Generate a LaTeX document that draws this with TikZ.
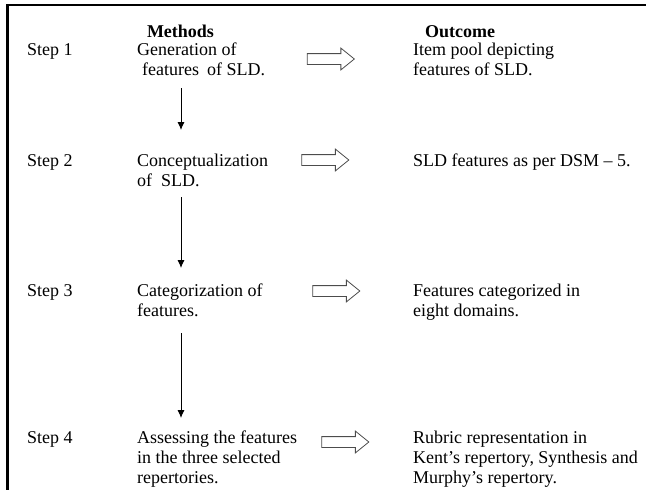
\documentclass[tikz,border=0pt]{standalone}
\usepackage{fontspec}
\setmainfont{Liberation Serif}
\usetikzlibrary{shapes.arrows,arrows.meta}
\newcommand\blk[1]{\vtop{\baselineskip=20pt\halign{##\hfil\cr#1\crcr}}}
\tikzset{
  txt/.style={inner sep=0pt, anchor=base west, font=\fontsize{18}{20}\selectfont},
  head/.style={inner sep=0pt, anchor=base, font=\fontsize{18}{20}\selectfont\bfseries},
  harrow/.style={shape=single arrow, draw=black!70, line width=0.8pt, inner xsep=0pt,
    inner ysep=5pt, single arrow head extend=5.5pt, single arrow tip angle=78,
    single arrow head indent=0pt, minimum height=47pt},
  darrow/.style={draw, line width=0.9pt, -{Latex[length=8pt,width=7pt]}},
  frame/.style={draw, line width=2.6pt, line join=miter}
}
\begin{document}
\begin{tikzpicture}[x=1pt,y=-1pt]
\useasboundingbox (0,0) rectangle (646,490);
\draw[frame] (7.5,490) -- (7.5,5) -- (646,5);

\node[head] (hm) at (180.5,37) {Methods};
\node[head] (ho) at (460,37) {Outcome};

\node[txt] (s1) at (27,55) {Step 1};
\node[txt] (m1) at (137,55) {\blk{Generation of\cr\hspace*{5pt}features\hspace{8pt}of SLD.}};
\node[harrow] (h1) at (327.5,59) {};
\node[txt] (o1) at (413,55) {\blk{Item pool depicting\cr features of SLD.}};

\node[txt] (s2) at (27,166) {Step 2};
\node[txt] (m2) at (137,166) {\blk{Conceptualization\cr of\hspace{9pt}SLD.}};
\node[harrow] (h2) at (322,160) {};
\node[txt] (o2) at (413,166) {SLD features as per DSM – 5.};

\node[txt] (s3) at (27,296) {Step 3};
\node[txt] (m3) at (137,296) {\blk{Categorization of\cr features.}};
\node[harrow] (h3) at (333,291) {};
\node[txt] (o3) at (413,296) {\blk{Features categorized in\cr eight domains.}};

\node[txt] (s4) at (27,443) {Step 4};
\node[txt] (m4) at (137,443) {\blk{Assessing the features\cr in the three selected\cr repertories.}};
\node[harrow] (h4) at (342,442) {};
\node[txt] (o4) at (413,443) {\blk{Rubric representation in\cr Kent’s repertory, Synthesis and\cr Murphy’s repertory.}};

\coordinate (a1s) at (181,88);  \coordinate (a1e) at (181,130);
\coordinate (a2s) at (181,197); \coordinate (a2e) at (181,268);
\coordinate (a3s) at (181,333); \coordinate (a3e) at (181,418);
\draw[darrow] (a1s) -- (a1e);
\draw[darrow] (a2s) -- (a2e);
\draw[darrow] (a3s) -- (a3e);
\end{tikzpicture}
\end{document}
